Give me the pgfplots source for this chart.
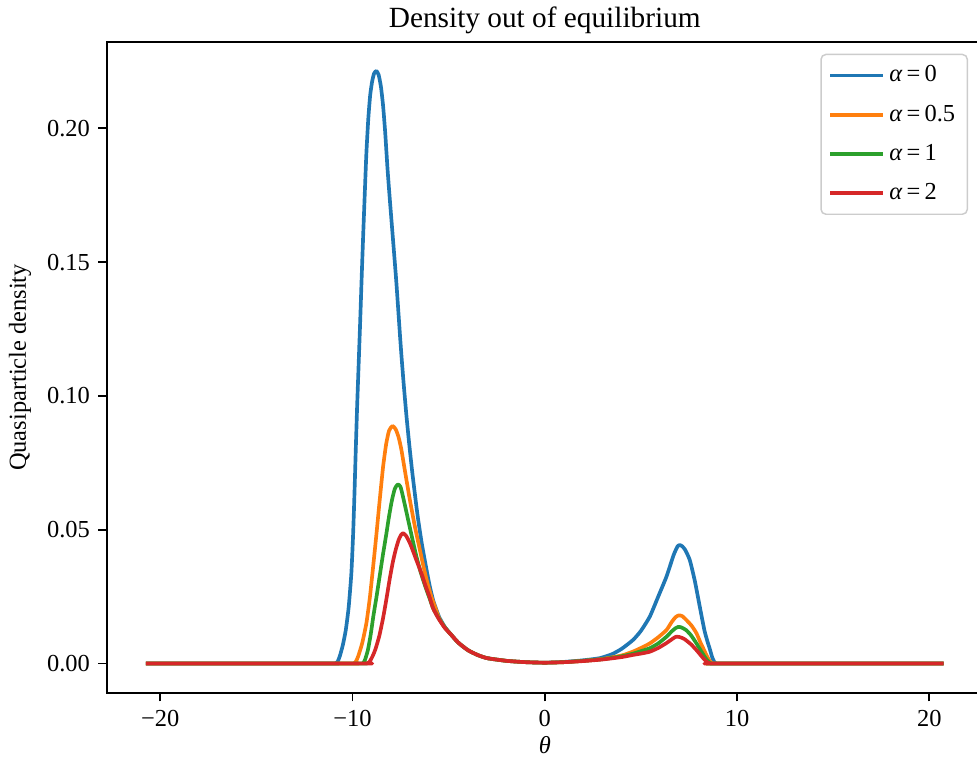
\documentclass[border=0pt]{standalone}
\usepackage{fontspec}
\setmainfont{Liberation Serif}
\usepackage{pgfplots}
\pgfplotsset{compat=1.18}
\definecolor{c0}{HTML}{1F77B4}
\definecolor{c1}{HTML}{FF7F0E}
\definecolor{c2}{HTML}{2CA02C}
\definecolor{c3}{HTML}{D62728}
\begin{document}
\begin{tikzpicture}
\begin{axis}[
  at={(0,0)}, anchor=south west,
  scale only axis, width=356.2pt, height=266.5pt,
  xmin=-22.77, xmax=22.48, ymin=-0.0110, ymax=0.2323,
  clip=false,
  axis line style={draw=none},
  tick align=outside, xtick pos=bottom, ytick pos=left,
  major tick length=3.5pt, tick style={line width=0.8pt, black},
  xtick={-20,-10,0,10,20}, xticklabels={−20,−10,0,10,20},
  ytick={0,0.05,0.1,0.15,0.2}, yticklabels={0.00,0.05,0.10,0.15,0.20},
  ticklabel style={font=\fontsize{10}{12}\selectfont},
  xlabel={\textit{θ}}, ylabel={Quasiparticle density},
  label style={font=\fontsize{10}{12}\selectfont},
  xlabel style={at={([yshift=-21.3pt]axis cs:0,-0.0110)}, anchor=center},
  ylabel style={at={([xshift=-35.6pt]rel axis cs:0,0.5)}, anchor=center},
  legend cell align=left,
  legend image code/.code={\draw[#1, line width=1.5pt] (0pt,0pt) -- (21.5pt,0pt);},
  legend style={at={(rel axis cs:0.9897,0.982)}, anchor=north east,
    draw=black!20, line width=0.6pt, rounded corners=2pt, fill=white,
    font=\fontsize{10}{12}\selectfont, row sep=3.9pt, inner xsep=3pt, inner ysep=2.6pt},
  every axis plot/.append style={line width=1.5pt, line join=round, smooth, tension=0.35},
]
\addplot[c0] coordinates {
(-20.75,0) (-11.2,0) (-10.9,0) (-10.78,0.0006) (-10.65,0.003) (-10.5,0.007) (-10.35,0.0125) (-10.2,0.021)
(-10.06,0.0337) (-9.97,0.048) (-9.90,0.063) (-9.83,0.080) (-9.76,0.096) (-9.68,0.112) (-9.6,0.128)
(-9.52,0.145) (-9.44,0.161) (-9.36,0.176) (-9.28,0.1905) (-9.18,0.2035) (-9.08,0.2125) (-8.98,0.2175)
(-8.88,0.2205) (-8.76,0.2215) (-8.64,0.2200) (-8.52,0.2155) (-8.41,0.2085) (-8.3,0.1985) (-8.18,0.185)
(-8.06,0.1735) (-7.9,0.159) (-7.72,0.1425) (-7.5,0.1195) (-7.35,0.1055) (-7.2,0.093) (-7.05,0.082)
(-6.9,0.072) (-6.75,0.063) (-6.6,0.0545) (-6.4,0.045) (-6.2,0.037) (-6.0,0.0295) (-5.8,0.0235)
(-5.5,0.0175) (-5.2,0.0137) (-4.9,0.011) (-4.5,0.0078) (-4.0,0.005) (-3.5,0.0032) (-3.0,0.002)
(-2.0,0.001) (-1.0,0.0005) (0,0.0003) (1.0,0.0006) (2.0,0.0012) (2.86,0.002) (3.5,0.0035)
(4.0,0.0055) (4.59,0.0088) (5.0,0.0122) (5.46,0.0175) (5.9,0.025) (6.33,0.0325) (6.7,0.0405)
(6.9,0.0437) (7.02,0.0443) (7.15,0.0438) (7.3,0.0425) (7.54,0.0387) (7.8,0.031) (8.06,0.0213)
(8.3,0.0125) (8.45,0.0085) (8.58,0.0055) (8.7,0.0025) (8.8,0.0008) (8.9,0) (9.2,0) (20.75,0)
};
\addlegendentry{\textit{α}\,=\,0}
\addplot[c1] coordinates {
(-20.75,0) (-10.2,0) (-9.95,0) (-9.82,0.0008) (-9.7,0.0028) (-9.5,0.0075) (-9.28,0.015) (-9.1,0.0245)
(-8.93,0.036) (-8.76,0.048) (-8.6,0.060) (-8.41,0.0735) (-8.25,0.082) (-8.1,0.087) (-7.92,0.0888)
(-7.75,0.0875) (-7.6,0.0845) (-7.46,0.080) (-7.25,0.071) (-7.02,0.0613) (-6.75,0.051) (-6.5,0.0426)
(-6.3,0.036) (-6.1,0.030) (-5.9,0.025) (-5.7,0.021) (-5.5,0.017) (-5.2,0.0135) (-4.9,0.011)
(-4.5,0.0078) (-4.0,0.005) (-3.5,0.0032) (-3.0,0.002) (-2.0,0.001) (-1.0,0.0005) (0,0.0003)
(1.0,0.0005) (2.0,0.001) (3.0,0.0017) (4.0,0.003) (4.6,0.0045) (5.0,0.0058) (5.46,0.0075)
(5.9,0.0098) (6.33,0.0125) (6.6,0.0155) (6.8,0.0173) (6.97,0.018) (7.15,0.0177) (7.4,0.016)
(7.65,0.014) (7.89,0.0113) (8.1,0.0078) (8.3,0.0048) (8.45,0.0025) (8.6,0.0008) (8.72,0) (9.0,0) (20.75,0)
};
\addlegendentry{\textit{α}\,=\,0.5}
\addplot[c2] coordinates {
(-20.75,0) (-9.8,0) (-9.5,0) (-9.37,0.001) (-9.2,0.005) (-9.05,0.011) (-8.92,0.0175) (-8.75,0.025)
(-8.58,0.033) (-8.41,0.041) (-8.25,0.048) (-8.1,0.055) (-7.95,0.061) (-7.8,0.0653) (-7.65,0.0669)
(-7.5,0.066) (-7.3,0.060) (-7.11,0.0538) (-6.9,0.047) (-6.68,0.0401) (-6.45,0.034) (-6.2,0.0285)
(-6.0,0.0245) (-5.8,0.0205) (-5.5,0.0167) (-5.2,0.0135) (-4.9,0.011) (-4.5,0.0078) (-4.0,0.005)
(-3.5,0.0032) (-3.0,0.002) (-2.0,0.001) (-1.0,0.0005) (0,0.0003) (1.0,0.0005) (2.0,0.001)
(3.0,0.0016) (4.0,0.0027) (4.6,0.0037) (5.0,0.0046) (5.46,0.0057) (5.9,0.0075) (6.33,0.010)
(6.6,0.012) (6.8,0.0132) (6.94,0.0137) (7.1,0.0135) (7.35,0.0125) (7.6,0.0106) (7.89,0.0075)
(8.1,0.005) (8.3,0.0027) (8.45,0.0012) (8.6,0.0002) (8.7,0) (9.0,0) (20.75,0)
};
\addlegendentry{\textit{α}\,=\,1}
\addplot[c3] coordinates {
(-20.75,0) (-9.55,0) (-9.25,0) (-9.1,0.0008) (-8.95,0.0028) (-8.8,0.0055) (-8.6,0.0105) (-8.41,0.017)
(-8.25,0.0235) (-8.06,0.0318) (-7.9,0.038) (-7.75,0.0426) (-7.6,0.0462) (-7.48,0.048) (-7.37,0.0487)
(-7.22,0.0478) (-7.08,0.046) (-6.94,0.0437) (-6.68,0.0387) (-6.42,0.0338) (-6.2,0.029) (-6.0,0.025)
(-5.8,0.0205) (-5.5,0.0165) (-5.2,0.0133) (-4.9,0.011) (-4.5,0.0078) (-4.0,0.005) (-3.5,0.0032)
(-3.0,0.002) (-2.0,0.001) (-1.0,0.0005) (0,0.0003) (1.0,0.0005) (2.0,0.0009) (3.0,0.0015)
(4.0,0.0024) (4.58,0.0032) (5.0,0.0037) (5.46,0.0044) (5.9,0.0058) (6.3,0.0075) (6.6,0.009)
(6.82,0.0100) (7.0,0.0099) (7.25,0.0092) (7.6,0.0072) (7.89,0.005) (8.1,0.0032) (8.3,0.0015)
(8.45,0.0005) (8.6,0) (8.9,0) (20.75,0)
};
\addlegendentry{\textit{α}\,=\,2}
\draw[line width=0.8pt, line cap=rect] (rel axis cs:1,1) -- (rel axis cs:0,1) -- (rel axis cs:0,0) -- (rel axis cs:1,0);
\node[anchor=base, font=\fontsize{12}{14.4}\selectfont] at ([yshift=6.1pt]axis cs:0,0.2323) {Density out of equilibrium};
\end{axis}
\pgfresetboundingbox
\path (-43.8pt,-29.5pt) rectangle (356.2pt,283.7pt);
\end{tikzpicture}
\end{document}
